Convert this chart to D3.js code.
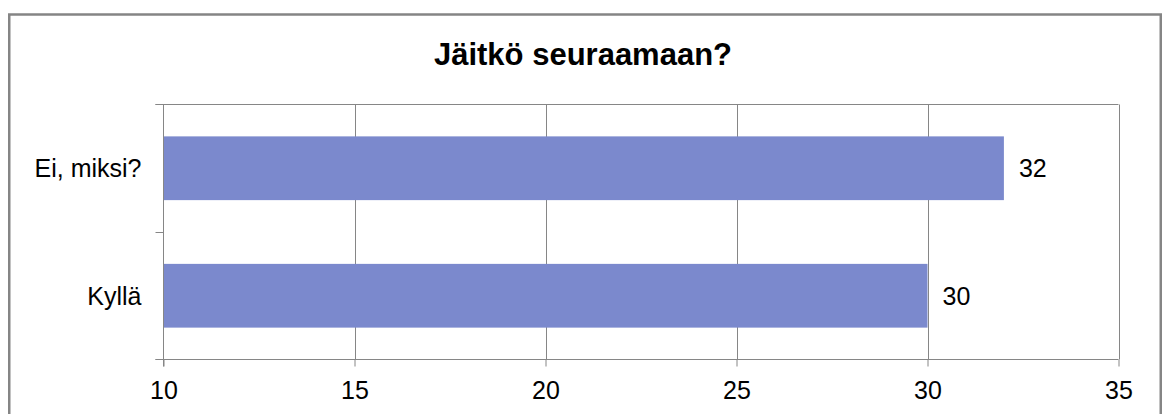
<!DOCTYPE html>
<html>
<head>
<meta charset="utf-8">
<script src="https://cdn.jsdelivr.net/npm/d3@7"></script>
<style>
  html, body { margin: 0; padding: 0; background: #ffffff; }
  svg { display: block; }
  text { font-family: "Liberation Sans", Arial, sans-serif; fill: #000; }
</style>
</head>
<body>
<svg id="chart" width="1164" height="414"></svg>
<script>
const title = "Jäitkö seuraamaan?";
const categories = ["Ei, miksi?", "Kyllä"];
const values = [32, 30];
const xDomain = [10, 35];
const xTicks = [10, 15, 20, 25, 30, 35];

const W = 1164, H = 414;
const plot = { left: 163.5, right: 1118.5, top: 104.5, bottom: 359.5 };
const gridColor = "#868686";
const barColor = "#7b89cd";

const svg = d3.select("#chart");

// outer frame
svg.append("rect")
  .attr("x", 9.25).attr("y", 14.5)
  .attr("width", 1151.5).attr("height", 420)
  .attr("fill", "#fff")
  .attr("stroke", "#858585").attr("stroke-width", 2.5);

// title
svg.append("text")
  .attr("x", 583).attr("y", 65)
  .attr("text-anchor", "middle")
  .attr("font-weight", "bold")
  .attr("font-size", 31)
  .text(title);

const x = d3.scaleLinear().domain(xDomain).range([plot.left, plot.right]);
const y = d3.scaleBand().domain(categories).range([plot.top, plot.bottom])
  .paddingInner(0.5).paddingOuter(0.25);

// vertical gridlines
svg.append("g").selectAll("line").data(xTicks.slice(1)).join("line")
  .attr("x1", d => Math.round(x(d)) + 0.5).attr("x2", d => Math.round(x(d)) + 0.5)
  .attr("y1", plot.top).attr("y2", plot.bottom)
  .attr("stroke", gridColor).attr("stroke-width", 1);

// top border line
svg.append("line")
  .attr("x1", plot.left - 8).attr("x2", plot.right)
  .attr("y1", plot.top).attr("y2", plot.top)
  .attr("stroke", gridColor).attr("stroke-width", 1);

// bars
svg.append("g").selectAll("rect").data(categories).join("rect")
  .attr("x", x(xDomain[0]))
  .attr("y", d => y(d))
  .attr("width", (d, i) => x(values[i]) - x(xDomain[0]))
  .attr("height", y.bandwidth())
  .attr("fill", barColor);

// value labels
svg.append("g").selectAll("text").data(categories).join("text")
  .attr("x", (d, i) => x(values[i]) + 15)
  .attr("y", d => y(d) + y.bandwidth() / 2 + 9)
  .attr("font-size", 25)
  .text((d, i) => values[i]);

// x axis
const xAxis = d3.axisBottom(x).tickValues(xTicks).tickSize(7).tickPadding(15).tickSizeOuter(0);
const gx = svg.append("g").attr("transform", `translate(0,${plot.bottom})`).call(xAxis);
gx.select(".domain").remove();
gx.selectAll(".tick line").attr("stroke", gridColor);
gx.selectAll(".tick text").attr("font-size", 25).attr("fill", "#000")
  .attr("font-family", "Liberation Sans, Arial, sans-serif").attr("dy", "0.71em");
svg.append("line")
  .attr("x1", plot.left - 8).attr("x2", plot.right)
  .attr("y1", plot.bottom).attr("y2", plot.bottom)
  .attr("stroke", gridColor);

// y axis line
svg.append("line")
  .attr("x1", plot.left).attr("x2", plot.left)
  .attr("y1", plot.top).attr("y2", plot.bottom + 7)
  .attr("stroke", gridColor);

// y tick marks at band boundaries
const yBounds = [plot.top, (plot.top + plot.bottom) / 2, plot.bottom];
svg.append("g").selectAll("line").data(yBounds).join("line")
  .attr("x1", plot.left - 8).attr("x2", plot.left)
  .attr("y1", d => Math.round(d - 0.5) + 0.5).attr("y2", d => Math.round(d - 0.5) + 0.5)
  .attr("stroke", gridColor);

// category labels
svg.append("g").selectAll("text").data(categories).join("text")
  .attr("x", plot.left - 22)
  .attr("y", d => y(d) + y.bandwidth() / 2 + 9)
  .attr("text-anchor", "end")
  .attr("font-size", 25)
  .text(d => d);
</script>
</body>
</html>
